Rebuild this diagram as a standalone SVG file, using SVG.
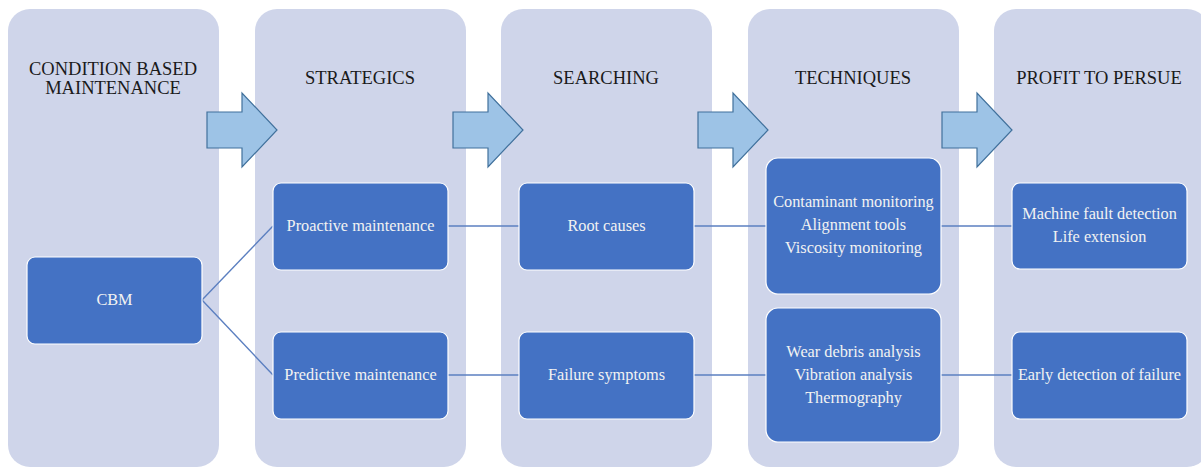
<svg xmlns="http://www.w3.org/2000/svg" width="1201" height="468" viewBox="0 0 1201 468">
<defs>
<style>
.col{fill:#CFD5EA}
.box{fill:#4472C4;stroke:#FFFFFF;stroke-width:1.2}
.arr{fill:#9DC3E6;stroke:#41719C;stroke-width:1.2}
.hd{font-family:"Liberation Serif",serif;font-size:18.5px;fill:#1a1a1a;text-anchor:middle}
.tx{font-family:"Liberation Serif",serif;font-size:16.3px;fill:#F2F2F2;text-anchor:middle}
.ln{stroke:#5B7FC0;stroke-width:1.4;fill:none}
</style>
<path id="arrow" d="M0,19 H35 V0 L70,37 L35,74 V55 H0 Z"/>
</defs>
<g id="columns">
<rect class="col" x="8" y="9" width="211" height="458" rx="22"/>
<rect class="col" x="255" y="9" width="211" height="458" rx="22"/>
<rect class="col" x="501" y="9" width="211" height="458" rx="22"/>
<rect class="col" x="748" y="9" width="211" height="458" rx="22"/>
<rect class="col" x="994" y="9" width="215" height="458" rx="22"/>
</g>
<g id="headers">
<text class="hd" x="113" y="75">CONDITION BASED</text>
<text class="hd" x="113" y="94">MAINTENANCE</text>
<text class="hd" x="360" y="84">STRATEGICS</text>
<text class="hd" x="606" y="84">SEARCHING</text>
<text class="hd" x="853" y="84">TECHNIQUES</text>
<text class="hd" x="1099" y="84">PROFIT TO PERSUE</text>
</g>
<g id="arrows">
<use href="#arrow" class="arr" x="207" y="93"/>
<use href="#arrow" class="arr" x="453" y="93"/>
<use href="#arrow" class="arr" x="698" y="93"/>
<use href="#arrow" class="arr" x="942" y="93"/>
</g>
<g id="connectors">
<line class="ln" x1="202" y1="300" x2="273" y2="226"/>
<line class="ln" x1="202" y1="300" x2="273" y2="375"/>
<line class="ln" x1="448" y1="226" x2="519" y2="226"/>
<line class="ln" x1="694" y1="226" x2="766" y2="226"/>
<line class="ln" x1="941" y1="226" x2="1012" y2="226"/>
<line class="ln" x1="448" y1="375" x2="519" y2="375"/>
<line class="ln" x1="694" y1="375" x2="766" y2="375"/>
<line class="ln" x1="941" y1="375" x2="1012" y2="375"/>
</g>
<g id="cbm">
<rect class="box" x="27" y="257" width="175" height="87" rx="8"/>
<text class="tx" x="114.5" y="305">CBM</text>
</g>
<g id="proactive">
<rect class="box" x="273" y="183" width="175" height="87" rx="8"/>
<text class="tx" x="360.5" y="231">Proactive maintenance</text>
</g>
<g id="predictive">
<rect class="box" x="273" y="332" width="175" height="87" rx="8"/>
<text class="tx" x="360.5" y="380">Predictive maintenance</text>
</g>
<g id="root-causes">
<rect class="box" x="519" y="183" width="175" height="87" rx="8"/>
<text class="tx" x="606.5" y="231">Root causes</text>
</g>
<g id="failure-symptoms">
<rect class="box" x="519" y="332" width="175" height="87" rx="8"/>
<text class="tx" x="606.5" y="380">Failure symptoms</text>
</g>
<g id="techniques-top">
<rect class="box" x="766" y="158" width="175" height="136" rx="12"/>
<text class="tx" x="853.5" y="207">Contaminant monitoring</text>
<text class="tx" x="853.5" y="230">Alignment tools</text>
<text class="tx" x="853.5" y="253">Viscosity monitoring</text>
</g>
<g id="techniques-bottom">
<rect class="box" x="766" y="308" width="175" height="134" rx="12"/>
<text class="tx" x="853.5" y="357">Wear debris analysis</text>
<text class="tx" x="853.5" y="380">Vibration analysis</text>
<text class="tx" x="853.5" y="403">Thermography</text>
</g>
<g id="profit-top">
<rect class="box" x="1012" y="183" width="175" height="86" rx="8"/>
<text class="tx" x="1099.5" y="219">Machine fault detection</text>
<text class="tx" x="1099.5" y="242">Life extension</text>
</g>
<g id="profit-bottom">
<rect class="box" x="1012" y="332" width="175" height="87" rx="8"/>
<text class="tx" x="1099.5" y="380">Early detection of failure</text>
</g>
</svg>
